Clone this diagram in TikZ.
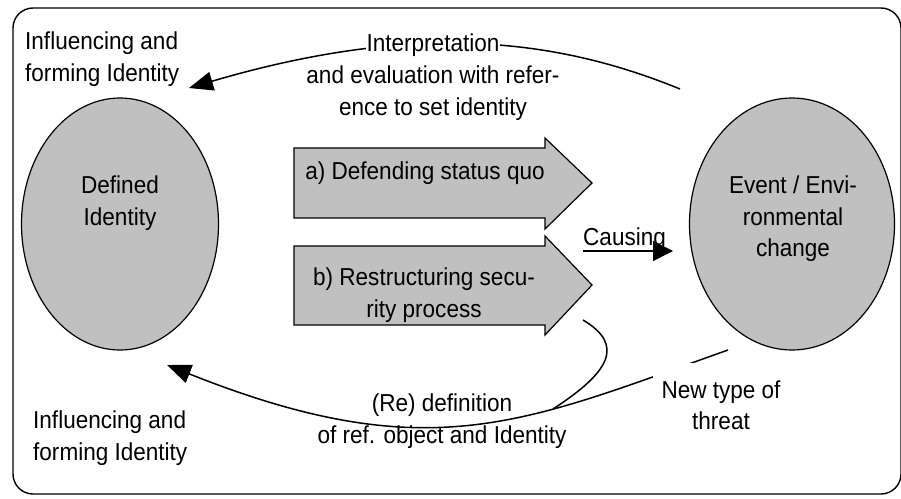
\documentclass[tikz,border=0pt]{standalone}
\usepackage{fontspec}
\setmainfont{Liberation Sans}[FakeStretch=0.92]
\usetikzlibrary{shapes.geometric,arrows.meta}
\definecolor{boxgray}{RGB}{192,192,192}

\begin{document}
\begin{tikzpicture}[x=1pt,y=-1pt,
  grayshape/.style={fill=boxgray,draw=black,line width=1.2pt},
  lbl/.style={font=\fontsize{24.5}{31.5}\selectfont,inner sep=0pt,align=center},
  conn/.style={line width=1.5pt},
  bigtip/.style={-{Triangle[length=24pt,width=19pt]}},
  smalltip/.style={-{Triangle[length=20pt,width=20pt]}}
]
\useasboundingbox (0,0) rectangle (901,498);

% outer frame
\draw[line width=1.4pt,rounded corners=20pt] (13,8) rectangle (901,494);

% the two ellipses
\node[grayshape,ellipse,minimum width=197pt,minimum height=252pt,inner sep=0pt] (defined) at (120,224) {};
\node[grayshape,ellipse,minimum width=205pt,minimum height=252pt,inner sep=0pt] (event) at (792,224) {};
\node[lbl] (definedtxt) at (120,203) {Defined\\Identity};
\node[lbl] (eventtxt) at (793,219) {Event / Envi-\\ronmental\\change};

% block arrows for the two strategies
\draw[grayshape] (294,148) -- (545,148) -- (545,138) -- (592,183) -- (545,229) -- (545,218) -- (294,218) -- cycle;
\draw[grayshape] (294,246) -- (545,246) -- (545,236) -- (592,285) -- (545,335) -- (545,325) -- (294,325) -- cycle;
\node[lbl] (stratA) at (425,173) {a) Defending status quo};
\node[lbl] (stratB) at (424,295) {b) Restructuring secu-\\rity process};

% connector end points
\coordinate (topstart) at (680,89);
\coordinate (toptip) at (189,88);
\coordinate (botstart) at (728,350);
\coordinate (bottip) at (167,365);
\coordinate (bstart) at (583,320);
\coordinate (bjoin) at (553,409);
\coordinate (cstart) at (583,251);
\coordinate (ctip) at (673,251);

% interpretation loop on top
\draw[conn,bigtip] (topstart) .. controls (560,40) and (420,20) .. (toptip);
% redefinition loop at the bottom
\draw[conn,bigtip] (botstart) .. controls (525,422) and (430,470) .. (bottip);
\draw[conn] (bstart) .. controls (625,345) and (610,372) .. (bjoin);
% causing
\draw[conn,smalltip] (cstart) -- (ctip);

% labels
\node[lbl,align=left,anchor=west] (infltop) at (25,59) {Influencing and\\forming Identity};
\node[lbl,fill=white,inner xsep=1pt,inner ysep=2pt] (interp1) at (433,45) {Interpretation};
\node[lbl] (interp2) at (433,93) {and evaluation with refer-\\ence to set identity};
\node[lbl,anchor=base west] (causing) at (583,245) {Causing};
\node[lbl,align=left,anchor=west] (inflbot) at (33,438) {Influencing and\\forming Identity};
\node[lbl] (redef) at (442,421) {(Re) definition\\of ref. object and Identity};
\node[lbl,fill=white,inner xsep=9pt,inner ysep=17pt] (newthreat) at (721,405) {New type of\\threat};
\end{tikzpicture}
\end{document}
